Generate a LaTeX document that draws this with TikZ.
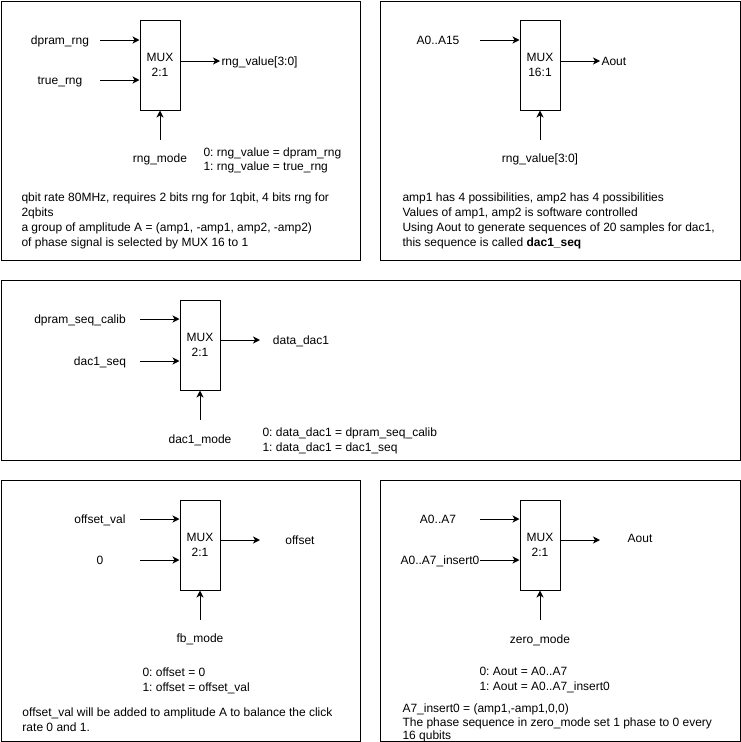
\documentclass[tikz,border=0pt]{standalone}
\usepackage{fontspec}
\setmainfont{Liberation Sans}
\usetikzlibrary{arrows.meta}
\frenchspacing
\begin{document}
\begin{tikzpicture}[x=1pt,y=-1pt, line width=1pt,
 every node/.style={font=\fontsize{12pt}{15pt}\selectfont, inner sep=0pt},
 panel/.style={draw=black, line width=1pt},
 mux/.style={draw, line width=1pt, minimum width=40pt, minimum height=90pt, align=center, inner sep=0pt},
 arr/.style={-{Stealth[length=7pt,width=7pt,inset=2pt]}},
 c/.style={anchor=base, yshift=-4.3pt},
 w/.style={anchor=base west, yshift=-4.3pt},
 para/.style={anchor=north west, align=left, yshift=4.5pt}]
\useasboundingbox (0,0) rectangle (741,742);
\fill[white] (0,0) rectangle (741,742);

% panels
\draw[panel] (1,1) rectangle (360,260);
\draw[panel] (380,1) rectangle (740,260);
\draw[panel] (1,280) rectangle (740,460);
\draw[panel] (1,480) rectangle (360,741);
\draw[panel] (380,480) rectangle (740,741);

% ---------- panel 1
\node[mux] (m1) at (160,65) {MUX\\2:1};
\node[c] (l1a) at (60,40) {dpram\_rng};
\node[c] (l1b) at (60,80) {true\_rng};
\coordinate (a1a) at (100,40);
\coordinate (a1b) at (100,80);
\draw[arr] (a1a) -- (a1a -| m1.west);
\draw[arr] (a1b) -- (a1b -| m1.west);
\coordinate (o1) at (220,61);
\draw[arr] (m1.east |- o1) -- (o1);
\node[w] (l1o) at (221,61) {rng\_value[3:0]};
\coordinate (c1) at (160,140);
\draw[arr] (c1) -- (m1.south);
\node[c] (l1c) at (160,158) {rng\_mode};
\node[para] (t1a) at (203,152) {0: rng\_value = dpram\_rng\\[-1pt]1: rng\_value = true\_rng};
\node[para] (t1b) at (21,197) {qbit rate 80MHz, requires 2 bits rng for 1qbit, 4 bits rng for\\2qbits\\a group of amplitude A = (amp1, -amp1, amp2, -amp2)\\of phase signal is selected by MUX 16 to 1};

% ---------- panel 2
\node[mux] (m2) at (540,65) {MUX\\16:1};
\node[c] (l2a) at (438,40) {A0..A15};
\coordinate (a2a) at (480,40);
\draw[arr] (a2a) -- (a2a -| m2.west);
\coordinate (o2) at (600,61);
\draw[arr] (m2.east |- o2) -- (o2);
\node[w] (l2o) at (601,61) {Aout};
\coordinate (c2) at (540,140);
\draw[arr] (c2) -- (m2.south);
\node[c] (l2c) at (540,158) {rng\_value[3:0]};
\node[para] (t2b) at (402,197) {amp1 has 4 possibilities, amp2 has 4 possibilities\\Values of amp1, amp2 is software controlled\\Using Aout to generate sequences of 20 samples for dac1,\\this sequence is called \textbf{dac1\_seq}};

% ---------- panel 3
\node[mux] (m3) at (200,345) {MUX\\2:1};
\node[c] (l3a) at (80,319) {dpram\_seq\_calib};
\node[c] (l3b) at (100,361) {dac1\_seq};
\coordinate (a3a) at (140,319);
\coordinate (a3b) at (140,361);
\draw[arr] (a3a) -- (a3a -| m3.west);
\draw[arr] (a3b) -- (a3b -| m3.west);
\coordinate (o3) at (260,340);
\draw[arr] (m3.east |- o3) -- (o3);
\node[c] (l3o) at (301,340) {data\_dac1};
\coordinate (c3) at (200,420);
\draw[arr] (c3) -- (m3.south);
\node[c] (l3c) at (200,439) {dac1\_mode};
\node[para] (t3a) at (262,432) {0: data\_dac1 = dpram\_seq\_calib\\1: data\_dac1 = dac1\_seq};

% ---------- panel 4
\node[mux] (m4) at (200,545) {MUX\\2:1};
\node[c] (l4a) at (100,519) {offset\_val};
\node[c] (l4b) at (100,560) {0};
\coordinate (a4a) at (140,519);
\coordinate (a4b) at (140,560);
\draw[arr] (a4a) -- (a4a -| m4.west);
\draw[arr] (a4b) -- (a4b -| m4.west);
\coordinate (o4) at (260,540);
\draw[arr] (m4.east |- o4) -- (o4);
\node[c] (l4o) at (300,540) {offset};
\coordinate (c4) at (200,620);
\draw[arr] (c4) -- (m4.south);
\node[c] (l4c) at (200,638) {fb\_mode};
\node[para] (t4a) at (142,672) {0: offset = 0\\1: offset = offset\_val};
\node[para] (t4b) at (22,712) {offset\_val will be added to amplitude A to balance the click\\rate 0 and 1.};

% ---------- panel 5
\node[mux] (m5) at (540,545) {MUX\\2:1};
\node[c] (l5a) at (438,519) {A0..A7};
\node[c] (l5b) at (440,560) {A0..A7\_insert0};
\coordinate (a5a) at (480,519);
\coordinate (a5b) at (480,560);
\draw[arr] (a5a) -- (a5a -| m5.west);
\draw[arr] (a5b) -- (a5b -| m5.west);
\coordinate (o5) at (600,540);
\draw[arr] (m5.east |- o5) -- (o5);
\node[c] (l5o) at (640,538) {Aout};
\coordinate (c5) at (540,620);
\draw[arr] (c5) -- (m5.south);
\node[c] (l5c) at (540,639) {zero\_mode};
\node[para] (t5a) at (479,671) {0: Aout = A0..A7\\1: Aout = A0..A7\_insert0};
\node[para, font=\fontsize{12pt}{13.5pt}\selectfont] (t5b) at (402,708) {A7\_insert0 = (amp1,-amp1,0,0)\\The phase sequence in zero\_mode set 1 phase to 0 every\\16 qubits};
\end{tikzpicture}
\end{document}
